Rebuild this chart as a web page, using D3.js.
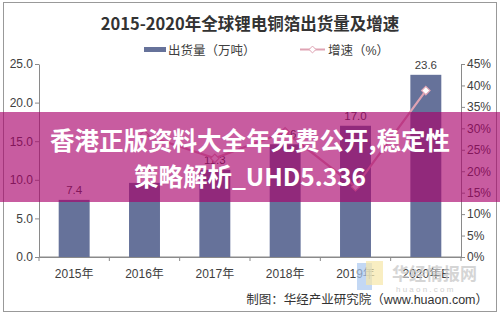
<!DOCTYPE html>
<head>
    <meta charset='utf-8'>
    <title>2015-2020年全球锂电铜箔出货量及增速</title>
    <script src='https://d3js.org/d3.v7.min.js'></script>
    <style>
        body { margin: 0; background: white; }
        text { font-family: 'Liberation Sans', 'Noto Sans CJK SC', sans-serif; fill: #404040; }
    </style>
</head>
<body>
<script>
//DATA
var years = ['2015年', '2016年', '2017年', '2018年', '2019年', '2020年E']
var shipment = [7.4, 9.6, 11.3, 14.6, 17.0, 23.6]
var growth = [null, 28.5, 23.0, 29.2, 16.4, 38.8]
var leftTicks = [0, 5, 10, 15, 20, 25]
var rightTicks = [0, 5, 10, 15, 20, 25, 30, 35, 40, 45]
var title = '2015-2020年全球锂电铜箔出货量及增速'
var legendNames = ['出货量（万吨）', '增速（%）']
var source = '制图：华经产业研究院（www.huaon.com）'
var banner = ['香港正版资料大全年免费公开,稳定性', '策略解析_UHD5.336']

var barColor = '#66729a', lineColor = '#dfa3b3', axisColor = '#8a8a8a'

//WINDOW
var svg = d3.select('body').append('svg')
    .attr('width', 500).attr('height', 314)

svg.append('rect')
    .attr('x', 3.5).attr('y', 2.5).attr('width', 493).attr('height', 309)
    .attr('fill', 'white').attr('stroke', '#999')

//SCALES
var x = d3.scaleBand().domain(years).range([39, 461]).paddingInner(0.56).paddingOuter(0.28)
var yL = d3.scaleLinear().domain([0, 25]).range([257, 64])
var yR = d3.scaleLinear().domain([0, 45]).range([257, 64])

//TITLE + LEGEND
svg.append('text').text(title)
    .attr('x', 250).attr('y', 30).attr('text-anchor', 'middle')
    .style('font-family', "'Noto Sans CJK SC', sans-serif")
    .style('font-size', '16.5px').style('font-weight', 'bold').style('fill', '#333')

svg.append('rect').attr('x', 144).attr('y', 47).attr('width', 22).attr('height', 5).attr('fill', barColor)
svg.append('text').text(legendNames[0]).attr('x', 168).attr('y', 55).style('font-size', '12.5px')

svg.append('line').attr('x1', 300).attr('x2', 325).attr('y1', 49.5).attr('y2', 49.5)
    .attr('stroke', lineColor).attr('stroke-width', 2)
svg.append('path').attr('d', d3.symbol(d3.symbolDiamond2, 30)()).attr('transform', 'translate(312.5,49.5)')
    .attr('fill', 'white').attr('stroke', lineColor)
svg.append('text').text(legendNames[1]).attr('x', 328).attr('y', 55).style('font-size', '12.5px')

//AXES
var axL = svg.append('g').attr('transform', 'translate(39,0)')
    .call(d3.axisLeft(yL).tickValues(leftTicks).tickFormat(d3.format('.1f')).tickSize(4).tickSizeOuter(0))
var axR = svg.append('g').attr('transform', 'translate(461,0)')
    .call(d3.axisRight(yR).tickValues(rightTicks).tickFormat(d => d + '%').tickSize(4).tickSizeOuter(0))
var axB = svg.append('g').attr('transform', 'translate(0,257)')
    .call(d3.axisBottom(x).tickSize(0).tickPadding(12))

axB.append('line').attr('x1', 39).attr('x2', 461).attr('stroke', axisColor)
axB.selectAll('.sep').data(d3.range(years.length + 1)).enter().append('line')
    .attr('x1', i => 39 + i * x.step()).attr('x2', i => 39 + i * x.step())
    .attr('y1', 0).attr('y2', 4).attr('stroke', axisColor)

;[axL, axR, axB].forEach(a => {
    a.selectAll('.domain').attr('stroke', axisColor)
    a.selectAll('.tick line').attr('stroke', axisColor)
    a.selectAll('text').style('font-size', '12px').style('fill', '#404040')
        .style('font-family', "'Liberation Sans', 'Noto Sans CJK SC', sans-serif")
})
axL.selectAll('text').attr('x', -6)
axR.selectAll('text').attr('x', 6)

//BARS
svg.selectAll('.bar').data(shipment).enter().append('rect')
    .attr('x', (d, i) => x(years[i])).attr('width', x.bandwidth())
    .attr('y', d => yL(d)).attr('height', d => yL(0) - yL(d))
    .attr('fill', barColor)

svg.selectAll('.lbl').data(shipment).enter().append('text')
    .text(d => d.toFixed(1))
    .attr('x', (d, i) => x(years[i]) + x.bandwidth() / 2).attr('y', d => yL(d) - 6)
    .attr('text-anchor', 'middle').style('font-size', '11.5px')

//LINE
var pts = growth.map((g, i) => ({ g: g, i: i })).filter(d => d.g !== null)
var cx = d => x(years[d.i]) + x.bandwidth() / 2
svg.append('path').datum(pts)
    .attr('d', d3.line().x(cx).y(d => yR(d.g)))
    .attr('fill', 'none').attr('stroke', lineColor).attr('stroke-width', 2.2)
svg.selectAll('.mk').data(pts).enter().append('path')
    .attr('d', d3.symbol(d3.symbolDiamond2, 45)())
    .attr('transform', d => 'translate(' + cx(d) + ',' + yR(d.g) + ')')
    .attr('fill', 'white').attr('stroke', lineColor).attr('stroke-width', 1.2)

//WATERMARK
svg.append('rect').attr('x', 357).attr('y', 263).attr('width', 15).attr('height', 27).attr('fill', '#a9c8f0').attr('opacity', 0.7)
svg.append('rect').attr('x', 366).attr('y', 261).attr('width', 17).attr('height', 24).attr('fill', '#f6e7a8').attr('opacity', 0.7)
svg.append('text').text('华经情报网').attr('x', 392).attr('y', 280)
    .style('font-size', '17px').style('font-weight', 'bold').style('fill', '#c8c8c8').style('opacity', 0.75)
svg.append('text').text('h u a o n . c o m').attr('x', 396).attr('y', 292)
    .style('font-size', '8px').style('fill', '#d0d0d0')

//SOURCE
svg.append('text').text(source).attr('x', 488).attr('y', 304).attr('text-anchor', 'end')
    .style('font-size', '12.5px').style('fill', '#333')

//BANNER
svg.append('rect').attr('x', 0).attr('y', 112).attr('width', 500).attr('height', 90)
    .attr('fill', 'rgb(169,0,106)').attr('opacity', 0.64)
svg.selectAll('.bn').data(banner).enter().append('text')
    .text(d => d)
    .attr('x', 250).attr('y', (d, i) => 150 + i * 36).attr('text-anchor', 'middle')
    .style('font-family', "'Noto Sans CJK SC', sans-serif")
    .style('font-size', '24.5px').style('font-weight', 'bold').style('fill', 'white')
</script>
</body>
